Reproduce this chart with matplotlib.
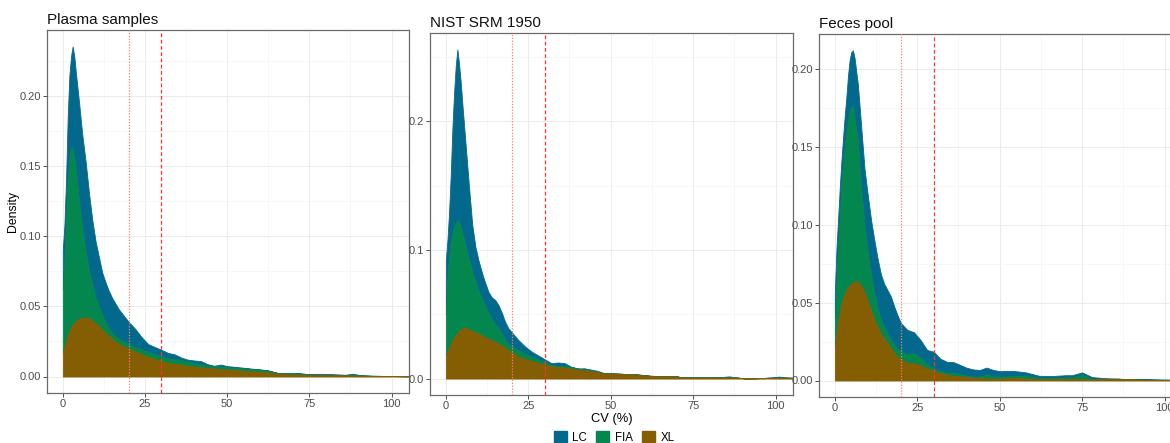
import numpy as np
import matplotlib
matplotlib.use("Agg")
import matplotlib.pyplot as plt
from matplotlib.patches import Patch
from matplotlib.ticker import FixedLocator

plt.rcParams['font.family'] = ['Liberation Sans', 'DejaVu Sans']

# ---- data (density values; stacked tops as displayed) ----
cv = [0, 0.5, 1, 1.5, 2, 2.5, 3, 3.5, 4, 4.5, 5, 5.5, 6, 7, 8, 9, 10, 11, 12, 13,
      14, 15, 16, 17, 18, 19, 20, 22, 24, 26, 28, 30, 32, 34, 36, 38, 40, 42, 44,
      46, 48, 50, 54, 58, 62, 66, 70, 72, 75, 78, 82, 86, 88, 91, 94, 98, 101, 105]

methods = ["LC", "FIA", "XL"]
colors = {"LC": "#03698C", "FIA": "#03874F", "XL": "#855D02"}
panels = ["Plasma samples", "NIST SRM 1950", "Feces pool"]

# Plasma samples: stacked tops (XL, XL+FIA, XL+FIA+LC)
plasma_xl = [0.017, 0.021, 0.025, 0.029, 0.032, 0.035, 0.037, 0.038, 0.0395, 0.0405, 0.041, 0.0415,
             0.042, 0.042, 0.0415, 0.040, 0.038, 0.036, 0.0335, 0.031, 0.029, 0.027, 0.025, 0.0235,
             0.022, 0.021, 0.020, 0.018, 0.016, 0.014, 0.0125, 0.011, 0.0098, 0.009, 0.0085, 0.0075,
             0.007, 0.0066, 0.0062, 0.0057, 0.0053, 0.005, 0.0044, 0.0037, 0.003, 0.002, 0.0015, 0.0014,
             0.0012, 0.0011, 0.001, 0.0008, 0.0007, 0.0006, 0.0004, 0.0003, 0.0003, 0.0002]
plasma_fia = [0.062, 0.082, 0.112, 0.140, 0.155, 0.163, 0.163, 0.155, 0.145, 0.134, 0.123, 0.114,
              0.104, 0.088, 0.075, 0.065, 0.056, 0.050, 0.044, 0.038, 0.034, 0.031, 0.029, 0.027,
              0.026, 0.0245, 0.023, 0.021, 0.0195, 0.0175, 0.016, 0.0145, 0.013, 0.012, 0.0117, 0.0105,
              0.0095, 0.0087, 0.008, 0.0075, 0.007, 0.0068, 0.006, 0.0052, 0.0045, 0.0021, 0.0025, 0.002,
              0.0013, 0.0011, 0.001, 0.0009, 0.0008, 0.0007, 0.0005, 0.0004, 0.0003, 0.0002]
plasma_lc = [0.090, 0.108, 0.140, 0.185, 0.214, 0.228, 0.235, 0.228, 0.216, 0.205, 0.194, 0.182,
             0.171, 0.152, 0.130, 0.111, 0.096, 0.085, 0.074, 0.067, 0.061, 0.056, 0.052, 0.048,
             0.045, 0.042, 0.039, 0.034, 0.028, 0.023, 0.021, 0.019, 0.0168, 0.0158, 0.0135, 0.012,
             0.0114, 0.011, 0.0088, 0.0076, 0.0085, 0.0074, 0.0065, 0.0055, 0.0045, 0.0022, 0.0026, 0.0024,
             0.0016, 0.0019, 0.0017, 0.0012, 0.002, 0.0008, 0.0005, 0.0004, 0.0003, 0.0002]

# NIST SRM 1950
nist_xl = [0.018, 0.021, 0.024, 0.027, 0.030, 0.032, 0.034, 0.0355, 0.037, 0.038, 0.039, 0.0395,
           0.0395, 0.0385, 0.037, 0.036, 0.0348, 0.0335, 0.032, 0.031, 0.030, 0.0285, 0.027, 0.026,
           0.024, 0.022, 0.0205, 0.017, 0.0155, 0.0138, 0.012, 0.011, 0.0095, 0.009, 0.0085, 0.0078,
           0.007, 0.0065, 0.0059, 0.005, 0.004, 0.0039, 0.0036, 0.003, 0.002, 0.0017, 0.0016, 0.0008,
           0.0008, 0.0008, 0.0008, 0.0008, 0.0008, 0.0001, 0.0002, 0.0006, 0.0006, 0.0006]
nist_fia = [0.050, 0.078, 0.095, 0.106, 0.113, 0.118, 0.121, 0.123, 0.122, 0.118, 0.113, 0.108,
            0.103, 0.093, 0.083, 0.075, 0.068, 0.062, 0.056, 0.051, 0.046, 0.042, 0.039, 0.035,
            0.030, 0.027, 0.025, 0.022, 0.0195, 0.017, 0.015, 0.013, 0.0105, 0.0098, 0.0095, 0.009,
            0.0078, 0.007, 0.006, 0.005, 0.0041, 0.0039, 0.0036, 0.0031, 0.0021, 0.0018, 0.0016, 0.0008,
            0.0008, 0.0008, 0.0008, 0.0008, 0.0008, 0.0001, 0.0003, 0.0006, 0.0006, 0.0006]
nist_lc = [0.092, 0.108, 0.130, 0.159, 0.195, 0.222, 0.243, 0.256, 0.245, 0.231, 0.214, 0.198,
           0.182, 0.150, 0.120, 0.102, 0.091, 0.082, 0.074, 0.067, 0.063, 0.061, 0.057, 0.051,
           0.044, 0.039, 0.036, 0.030, 0.025, 0.021, 0.018, 0.015, 0.012, 0.0125, 0.012, 0.0092,
           0.0078, 0.008, 0.007, 0.006, 0.0042, 0.0041, 0.0036, 0.0033, 0.0022, 0.0019, 0.0017, 0.0008,
           0.0008, 0.0008, 0.0008, 0.0017, 0.0008, 0.0001, 0.0003, 0.0006, 0.0015, 0.0006]

# Feces pool
feces_xl = [0.0218, 0.030, 0.038, 0.044, 0.049, 0.053, 0.056, 0.058, 0.060, 0.061, 0.062, 0.063,
            0.0635, 0.0635, 0.061, 0.057, 0.051, 0.045, 0.039, 0.0345, 0.030, 0.027, 0.024, 0.0207,
            0.018, 0.0153, 0.0135, 0.0115, 0.011, 0.010, 0.0078, 0.0062, 0.0048, 0.0038, 0.003, 0.0026,
            0.0022, 0.0017, 0.0015, 0.0013, 0.0011, 0.0011, 0.0018, 0.0012, 0.001, 0.0009, 0.0009, 0.001,
            0.0009, 0.0008, 0.001, 0.0011, 0.0009, 0.0007, 0.0005, 0.0004, 0.0003, 0.0003]
feces_fia = [0.040, 0.062, 0.086, 0.105, 0.124, 0.137, 0.150, 0.159, 0.167, 0.173, 0.176, 0.176,
             0.168, 0.153, 0.123, 0.099, 0.082, 0.068, 0.056, 0.046, 0.039, 0.034, 0.030, 0.026,
             0.023, 0.0205, 0.019, 0.0165, 0.0178, 0.0145, 0.0105, 0.0075, 0.006, 0.0048, 0.005, 0.004,
             0.003, 0.0026, 0.0025, 0.004, 0.0026, 0.0024, 0.0028, 0.0032, 0.0015, 0.0017, 0.0019, 0.0022,
             0.004, 0.0009, 0.001, 0.0011, 0.0009, 0.0007, 0.0005, 0.0004, 0.0004, 0.0003]
feces_lc = [0.056, 0.085, 0.104, 0.124, 0.141, 0.156, 0.170, 0.182, 0.196, 0.206, 0.211, 0.212,
            0.207, 0.190, 0.163, 0.136, 0.119, 0.103, 0.090, 0.078, 0.068, 0.062, 0.058, 0.054,
            0.0476, 0.042, 0.037, 0.0325, 0.031, 0.026, 0.0196, 0.0185, 0.014, 0.012, 0.0118, 0.010,
            0.0082, 0.0071, 0.0068, 0.0083, 0.0068, 0.006, 0.0062, 0.0052, 0.003, 0.0029, 0.0034, 0.0034,
            0.0052, 0.0022, 0.0015, 0.0011, 0.001, 0.001, 0.0009, 0.0007, 0.0006, 0.0005]

stacks = [
    {"XL": plasma_xl, "FIA": plasma_fia, "LC": plasma_lc},
    {"XL": nist_xl, "FIA": nist_fia, "LC": nist_lc},
    {"XL": feces_xl, "FIA": feces_fia, "LC": feces_lc},
]
yticks = [[0, 0.05, 0.10, 0.15, 0.20], [0, 0.1, 0.2], [0, 0.05, 0.10, 0.15, 0.20]]
yminor = [[0.025, 0.075, 0.125, 0.175, 0.225], [0.05, 0.15, 0.25], [0.025, 0.075, 0.125, 0.175]]
yfmt = ["{:.2f}", "{:.1f}", "{:.2f}"]
xticks = [0, 25, 50, 75, 100]
xminor = [12.5, 37.5, 62.5, 87.5]
thresholds = [20, 30]

# ---- figure ----
W, H = 1170, 443
fig = plt.figure(figsize=(W / 100, H / 100), dpi=100)
boxes_px = [(47, 30, 409, 393), (430, 33, 793, 395), (819, 34, 1182, 397)]

x = np.array(cv)
for i, (l, t, r, b) in enumerate(boxes_px):
    ax = fig.add_axes([l / W, 1 - b / H, (r - l) / W, (b - t) / H])
    st = stacks[i]
    xl = np.array(st["XL"]); fia = np.array(st["FIA"]); lc = np.array(st["LC"])
    ax.fill_between(x, fia, lc, color=colors["LC"], lw=0.6, edgecolor=colors["LC"], zorder=2)
    ax.fill_between(x, xl, fia, color=colors["FIA"], lw=0.6, edgecolor=colors["FIA"], zorder=3)
    ax.fill_between(x, 0, xl, color=colors["XL"], lw=0.6, edgecolor=colors["XL"], zorder=4)

    ax.axvline(thresholds[0], color="#FF7A7A", ls=(0, (1, 1.3)), lw=0.9, zorder=5)
    ax.axvline(thresholds[1], color="#FF3333", ls=(0, (3, 2)), lw=0.9, zorder=5)

    ymax = lc.max()
    ax.set_ylim(-0.05 * ymax, 1.05 * ymax)
    ax.set_xlim(-4.8, 105.3)

    ax.set_xticks(xticks)
    ax.set_xticklabels([str(v) for v in xticks])
    ax.xaxis.set_minor_locator(FixedLocator(xminor))
    ax.set_yticks(yticks[i])
    ax.set_yticklabels([yfmt[i].format(v) for v in yticks[i]])
    ax.yaxis.set_minor_locator(FixedLocator(yminor[i]))

    ax.grid(which="major", color="#EBEBEB", lw=0.7, zorder=0)
    ax.grid(which="minor", color="#F4F4F4", lw=0.5, zorder=0)
    ax.set_axisbelow(True)
    ax.tick_params(which="major", length=3, width=0.6, color="#333333",
                   labelsize=8, labelcolor="#4D4D4D", pad=1.5)
    ax.tick_params(which="minor", length=0)
    for s in ax.spines.values():
        s.set_color("#6A6A6A")
        s.set_linewidth(0.9)

    ax.set_title(panels[i], loc="left", fontsize=11, pad=4, color="#111111")
    if i == 0:
        ax.set_ylabel("Density", fontsize=8.8)
        ax.yaxis.set_label_coords(-0.076, 0.5)
    if i == 1:
        ax.set_xlabel("CV (%)", fontsize=9.3, labelpad=1)

handles = [Patch(facecolor=colors[m], edgecolor=colors[m], label=m) for m in methods]
fig.legend(handles=handles, loc="center", bbox_to_anchor=(0.525, 0.012), ncol=3,
           frameon=False, fontsize=8.3, handlelength=1.1, handleheight=1.1,
           handletextpad=0.5, columnspacing=0.8)

fig.savefig("out.png", dpi=100)
